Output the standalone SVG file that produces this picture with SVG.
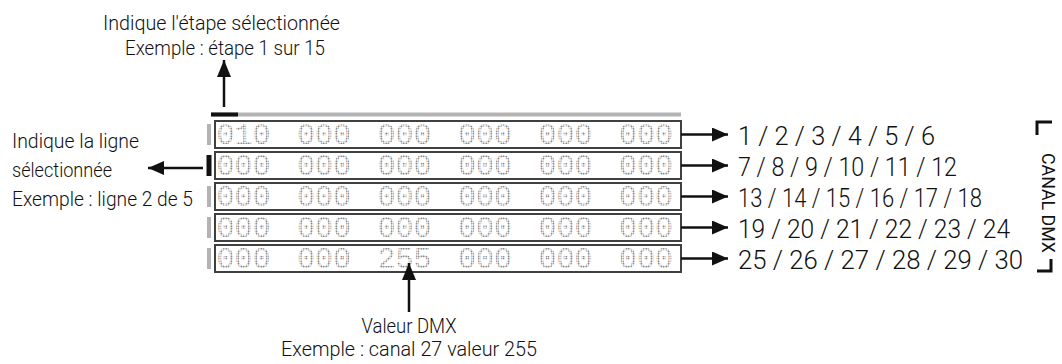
<svg xmlns="http://www.w3.org/2000/svg" width="1062" height="364" viewBox="0 0 1062 364">
  <defs>
    <pattern id="dots" width="2.5" height="2.5" patternUnits="userSpaceOnUse">
      <circle cx="1.25" cy="1.25" r="0.8" fill="#505050"/>
    </pattern>
    <marker id="ah" viewBox="0 0 16 14" refX="16" refY="7" markerWidth="16" markerHeight="14" markerUnits="userSpaceOnUse" orient="auto">
      <path d="M0,0 L16,7 L0,14 Z" fill="#111"/>
    </marker>
    <marker id="ahv" viewBox="0 0 17 14" refX="17" refY="7" markerWidth="17" markerHeight="14" markerUnits="userSpaceOnUse" orient="auto">
      <path d="M0,0 L17,7 L0,14 Z" fill="#111"/>
    </marker>
  </defs>
  <style>
    .lbl { font-family: Roboto, "Liberation Sans", Arial, sans-serif; font-weight: 300; font-size: 21px; fill: #111; }
    .num { font-family: Roboto, "Liberation Sans", Arial, sans-serif; font-weight: 300; font-size: 25.5px; fill: #111; }
    .vert { font-family: Roboto, "Liberation Sans", Arial, sans-serif; font-weight: 400; font-size: 18px; fill: #111; }
    .lcd { font-family: "Liberation Mono", "DejaVu Sans Mono", monospace; font-size: 30px; fill: url(#dots); opacity: 0.99; }
    .box { fill: #fff; stroke: #404040; stroke-width: 2; }
    .sel { fill: #b3b3b3; }
    .selon { fill: #111; }
    .conn { stroke: #111; stroke-width: 2.5; fill: none; }
    .brk { stroke: #111; stroke-width: 3; fill: none; }
  </style>

  <!-- step bar -->
  <g id="step-bar">
    <rect x="211" y="112.5" width="470" height="4" fill="#b3b3b3"/>
    <rect x="211" y="112.5" width="27" height="4" fill="#111"/>
  </g>

  <!-- display rows -->
  <g id="row1">
    <rect class="sel" x="207" y="124" width="4" height="21"/>
    <rect class="box" x="215" y="121" width="466" height="27"/>
    <text class="lcd" y="144"><tspan x="216.5">010</tspan><tspan x="297">000</tspan><tspan x="377.5">000</tspan><tspan x="458">000</tspan><tspan x="538.5">000</tspan><tspan x="619">000</tspan></text>
  </g>
  <g id="row2">
    <rect class="selon" x="206.5" y="155" width="5" height="21"/>
    <rect class="box" x="215" y="152" width="466" height="27"/>
    <text class="lcd" y="175"><tspan x="216.5">000</tspan><tspan x="297">000</tspan><tspan x="377.5">000</tspan><tspan x="458">000</tspan><tspan x="538.5">000</tspan><tspan x="619">000</tspan></text>
  </g>
  <g id="row3">
    <rect class="sel" x="207" y="186" width="4" height="21"/>
    <rect class="box" x="215" y="183" width="466" height="27"/>
    <text class="lcd" y="206"><tspan x="216.5">000</tspan><tspan x="297">000</tspan><tspan x="377.5">000</tspan><tspan x="458">000</tspan><tspan x="538.5">000</tspan><tspan x="619">000</tspan></text>
  </g>
  <g id="row4">
    <rect class="sel" x="207" y="217" width="4" height="21"/>
    <rect class="box" x="215" y="214" width="466" height="27"/>
    <text class="lcd" y="237"><tspan x="216.5">000</tspan><tspan x="297">000</tspan><tspan x="377.5">000</tspan><tspan x="458">000</tspan><tspan x="538.5">000</tspan><tspan x="619">000</tspan></text>
  </g>
  <g id="row5">
    <rect class="sel" x="207" y="248" width="4" height="21"/>
    <rect class="box" x="215" y="245" width="466" height="27"/>
    <text class="lcd" y="268"><tspan x="216.5">000</tspan><tspan x="297">000</tspan><tspan x="377.5">255</tspan><tspan x="458">000</tspan><tspan x="538.5">000</tspan><tspan x="619">000</tspan></text>
  </g>

  <!-- labels -->
  <g id="label-step">
    <text class="lbl" x="221.5" y="30" text-anchor="middle" textLength="237" lengthAdjust="spacingAndGlyphs">Indique l'étape sélectionnée</text>
    <text class="lbl" x="225" y="55" text-anchor="middle" textLength="200" lengthAdjust="spacingAndGlyphs">Exemple : étape 1 sur 15</text>
  </g>
  <g id="label-line">
    <text class="lbl" x="12" y="148" textLength="127" lengthAdjust="spacingAndGlyphs">Indique la ligne</text>
    <text class="lbl" x="12" y="177" textLength="100" lengthAdjust="spacingAndGlyphs">sélectionnée</text>
    <text class="lbl" x="12" y="206" textLength="181" lengthAdjust="spacingAndGlyphs">Exemple : ligne 2 de 5</text>
  </g>
  <g id="label-value">
    <text class="lbl" x="409" y="333" text-anchor="middle" textLength="95" lengthAdjust="spacingAndGlyphs">Valeur DMX</text>
    <text class="lbl" x="409" y="356" text-anchor="middle" textLength="256" lengthAdjust="spacingAndGlyphs">Exemple : canal 27 valeur 255</text>
  </g>
  <g id="channels">
    <text class="num" x="738" y="145" textLength="197" lengthAdjust="spacingAndGlyphs">1 / 2 / 3 / 4 / 5 / 6</text>
    <text class="num" x="738" y="176" textLength="219" lengthAdjust="spacingAndGlyphs">7 / 8 / 9 / 10 / 11 / 12</text>
    <text class="num" x="738" y="207" textLength="244" lengthAdjust="spacingAndGlyphs">13 / 14 / 15 / 16 / 17 / 18</text>
    <text class="num" x="738" y="238" textLength="272" lengthAdjust="spacingAndGlyphs">19 / 20 / 21 / 22 / 23 / 24</text>
    <text class="num" x="738" y="269" textLength="285" lengthAdjust="spacingAndGlyphs">25 / 26 / 27 / 28 / 29 / 30</text>
  </g>
  <g id="canal-dmx">
    <path class="brk" d="M1037,135 V122 H1052"/>
    <path class="brk" d="M1037,271 H1051 V259"/>
    <text class="vert" transform="translate(1042,203) rotate(90)" text-anchor="middle" textLength="100" lengthAdjust="spacingAndGlyphs">CANAL DMX</text>
  </g>

  <!-- connectors -->
  <g id="connectors">
    <line class="conn" x1="224" y1="107" x2="224" y2="60" marker-end="url(#ahv)"/>
    <line class="conn" x1="203" y1="168" x2="148" y2="168" marker-end="url(#ah)"/>
    <line class="conn" x1="409" y1="312" x2="409" y2="263" marker-end="url(#ahv)"/>
    <line class="conn" x1="681" y1="134.5" x2="728" y2="134.5" marker-end="url(#ah)"/>
    <line class="conn" x1="681" y1="165.5" x2="728" y2="165.5" marker-end="url(#ah)"/>
    <line class="conn" x1="681" y1="196.5" x2="728" y2="196.5" marker-end="url(#ah)"/>
    <line class="conn" x1="681" y1="227.5" x2="728" y2="227.5" marker-end="url(#ah)"/>
    <line class="conn" x1="681" y1="258.5" x2="728" y2="258.5" marker-end="url(#ah)"/>
  </g>
</svg>
